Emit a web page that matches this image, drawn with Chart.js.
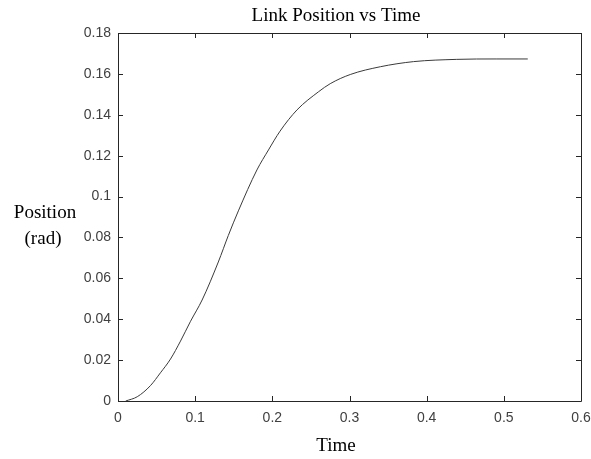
<!DOCTYPE html>
<html>
<head>
<meta charset="utf-8">
<script src="https://cdn.jsdelivr.net/npm/chart.js@4"></script>
<style>
  html, body { margin: 0; padding: 0; background: #fff; }
  #wrap { width: 591px; height: 459px; position: relative; }
</style>
</head>
<body>
<div id="wrap"><canvas id="chart" width="591" height="459"></canvas></div>
<script>
// time (s) and link position (rad)
const timeVals = [0.01, 0.025, 0.042, 0.055, 0.068, 0.081, 0.094, 0.109, 0.130, 0.143, 0.156, 0.180, 0.195, 0.210, 0.232, 0.260, 0.275, 0.301, 0.340, 0.383, 0.439, 0.490, 0.531];
const posVals = [0, 0.0021, 0.0075, 0.0138, 0.0205, 0.0293, 0.0390, 0.0494, 0.0680, 0.0810, 0.0930, 0.1130, 0.1228, 0.1320, 0.1424, 0.1513, 0.1552, 0.1597, 0.1635, 0.1660, 0.1671, 0.1673, 0.1673];

const xTicks = [0, 0.1, 0.2, 0.3, 0.4, 0.5, 0.6];
const yTicks = [0, 0.02, 0.04, 0.06, 0.08, 0.1, 0.12, 0.14, 0.16, 0.18];

const titleText = "Link Position vs Time";
const xLabel = "Time";
const yLabelLines = ["Position", "(rad)"];

const AXIS_COLOR = "#262626";
const TICK_COLOR = "#404040";
const SERIF = "'Liberation Serif', 'Times New Roman', serif";
const SANS = "'Liberation Sans', Arial, sans-serif";

const points = timeVals.map((t, i) => ({ x: t, y: posVals[i] }));

// box, inward ticks and the text labels (matlab look)
const matlabFrame = {
  id: "matlabFrame",
  afterDraw(chart) {
    const { ctx, chartArea: a, scales } = chart;
    const tl = 5;
    ctx.save();
    ctx.strokeStyle = AXIS_COLOR;
    ctx.lineWidth = 1;
    ctx.beginPath();
    ctx.rect(Math.round(a.left) + 0.5, Math.round(a.top) + 0.5,
             Math.round(a.right - a.left), Math.round(a.bottom - a.top));
    for (const v of xTicks) {
      const px = Math.round(scales.x.getPixelForValue(v)) + 0.5;
      ctx.moveTo(px, a.bottom); ctx.lineTo(px, a.bottom - tl);
      ctx.moveTo(px, a.top); ctx.lineTo(px, a.top + tl);
    }
    for (const v of yTicks) {
      const py = Math.round(scales.y.getPixelForValue(v)) + 0.5;
      ctx.moveTo(a.left, py); ctx.lineTo(a.left + tl, py);
      ctx.moveTo(a.right, py); ctx.lineTo(a.right - tl, py);
    }
    ctx.stroke();

    ctx.fillStyle = "#000";
    ctx.font = "19px " + SERIF;
    ctx.textAlign = "center";
    ctx.textBaseline = "middle";
    ctx.fillText(titleText, 336, 16);
    ctx.fillText(xLabel, 336, 446);
    ctx.fillText(yLabelLines[0], 45, 213);
    ctx.fillText(yLabelLines[1], 43, 239);
    ctx.restore();
  }
};

new Chart(document.getElementById("chart"), {
  type: "scatter",
  data: {
    datasets: [{
      data: points,
      showLine: true,
      borderColor: "#3a3a3a",
      borderWidth: 1,
      pointRadius: 0,
      cubicInterpolationMode: "monotone",
      fill: false
    }]
  },
  options: {
    responsive: false,
    animation: false,
    layout: { padding: { top: 33, right: 10, left: 0, bottom: 0 } },
    plugins: {
      legend: { display: false },
      tooltip: { enabled: false },
      title: { display: false }
    },
    scales: {
      x: {
        type: "linear",
        min: 0,
        max: 0.6,
        afterBuildTicks: (s) => { s.ticks = xTicks.map(v => ({ value: v })); },
        afterFit: (s) => { s.height = 58; s.paddingLeft = 0; s.paddingRight = 0; },
        grid: { display: false, drawTicks: false },
        border: { display: false },
        ticks: {
          color: TICK_COLOR,
          font: { family: SANS, size: 14 },
          padding: 9,
          maxRotation: 0,
          callback: (v) => String(+v.toFixed(2))
        }
      },
      y: {
        type: "linear",
        min: 0,
        max: 0.18,
        afterBuildTicks: (s) => { s.ticks = yTicks.map(v => ({ value: v })); },
        afterFit: (s) => { s.width = 118; s.paddingTop = 0; s.paddingBottom = 0; },
        grid: { display: false, drawTicks: false },
        border: { display: false },
        ticks: {
          color: TICK_COLOR,
          font: { family: SANS, size: 14 },
          padding: 7,
          callback: (v) => String(+v.toFixed(2))
        }
      }
    }
  },
  plugins: [matlabFrame]
});
</script>
</body>
</html>
